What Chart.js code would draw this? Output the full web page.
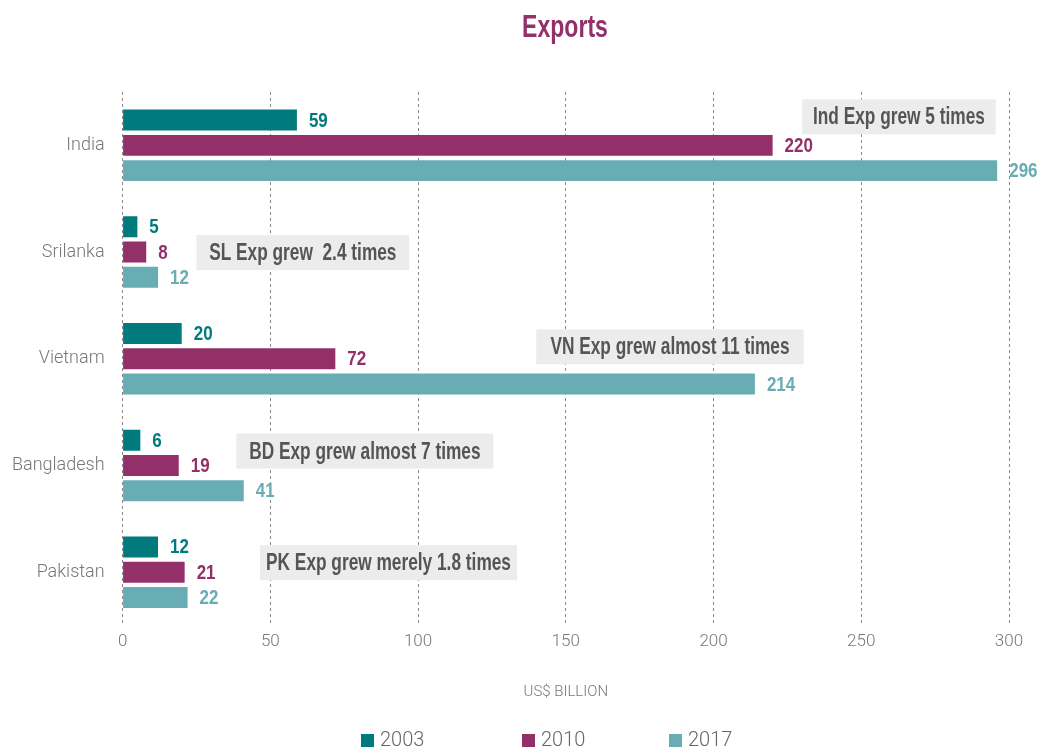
<!DOCTYPE html>
<html>
<head>
<meta charset="utf-8">
<script src="https://cdn.jsdelivr.net/npm/chart.js@4.4.1/dist/chart.umd.min.js"></script>
<style>
  html, body { margin: 0; padding: 0; background: #fff; }
  #wrap { width: 1039px; height: 749px; position: relative; }
</style>
</head>
<body>
<div id="wrap"><canvas id="myChart"></canvas></div>
<script>
// data
var countries = ['India', 'Srilanka', 'Vietnam', 'Bangladesh', 'Pakistan'];
var years = ['2003', '2010', '2017'];
var exp2003 = [59, 5, 20, 6, 12];
var exp2010 = [220, 8, 72, 19, 21];
var exp2017 = [296, 12, 214, 41, 22];
var xTicks = [0, 50, 100, 150, 200, 250, 300];
var chartTitle = 'Exports';
// notes: text, category, from/to on the x axis
var noteText = ['Ind Exp grew 5 times', 'SL Exp grew  2.4 times', 'VN Exp grew almost 11 times', 'BD Exp grew almost 7 times', 'PK Exp grew merely 1.8 times'];
var noteFrom = [230, 25, 140, 38.5, 46.5];
var noteTo = [295.5, 97, 230.5, 125.5, 133.5];

var colors = ['#007a7c', '#93306a', '#67adb3'];
var bold = "'Liberation Sans', Arial, sans-serif";
var thin = "Roboto, sans-serif";

// no condensed font here, so squeeze the text sideways
function narrowText(c, txt, x, y, sx) {
  c.save();
  c.translate(x, y);
  c.scale(sx, 1);
  c.fillText(txt, 0, 0);
  c.restore();
}

// title on top
var topTitle = {
  id: 'topTitle',
  afterDraw: function(chart) {
    var c = chart.ctx;
    c.save();
    c.font = 'bold 32px ' + bold;
    c.fillStyle = '#93306a';
    c.textAlign = 'center';
    c.textBaseline = 'alphabetic';
    narrowText(c, chartTitle, 565, 37, 0.72);
    c.restore();
  }
};

// values at the end of bars
var barLabels = {
  id: 'barLabels',
  afterDatasetsDraw: function(chart) {
    var c = chart.ctx;
    c.save();
    c.font = 'bold 20px ' + bold;
    c.textBaseline = 'middle';
    c.textAlign = 'left';
    chart.data.datasets.forEach(function(ds, i) {
      chart.getDatasetMeta(i).data.forEach(function(bar, j) {
        c.fillStyle = colors[i];
        narrowText(c, String(ds.data[j]), bar.x + 12, bar.y + 1, 0.85);
      });
    });
    c.restore();
  }
};

// grey boxes with remarks
var notes = {
  id: 'notes',
  afterDatasetsDraw: function(chart) {
    var c = chart.ctx, xs = chart.scales.x, ys = chart.scales.y;
    var offs = [-28.5, 0.5, -12, -14.5, -9.5];
    c.save();
    c.font = 'bold 24px ' + bold;
    c.textBaseline = 'middle';
    c.textAlign = 'center';
    for (var k = 0; k < noteText.length; k++) {
      var x1 = xs.getPixelForValue(noteFrom[k]), x2 = xs.getPixelForValue(noteTo[k]);
      var cy = ys.getPixelForValue(k) + offs[k];
      c.fillStyle = '#ececec';
      c.fillRect(x1, cy - 17.5, x2 - x1, 35);
      c.fillStyle = '#555555';
      narrowText(c, noteText[k], (x1 + x2) / 2, cy + 1, 0.72);
    }
    c.restore();
  }
};

// legend along the bottom
var bottomLegend = {
  id: 'bottomLegend',
  afterDraw: function(chart) {
    var c = chart.ctx;
    var xs = [361, 522, 669], y = 740;
    c.save();
    c.font = '300 20px ' + thin;
    c.textBaseline = 'middle';
    c.textAlign = 'left';
    chart.data.datasets.forEach(function(ds, i) {
      c.fillStyle = colors[i];
      c.fillRect(xs[i], y - 6, 13, 13);
      c.fillStyle = '#666';
      c.fillText(ds.label, xs[i] + 19, y + 1);
    });
    c.restore();
  }
};

var ctx = document.getElementById('myChart').getContext('2d');
var myChart = new Chart(ctx, {
  type: 'bar',
  data: {
    labels: countries,
    datasets: [
      { label: years[0], data: exp2003, backgroundColor: colors[0] },
      { label: years[1], data: exp2010, backgroundColor: colors[1] },
      { label: years[2], data: exp2017, backgroundColor: colors[2] }
    ]
  },
  options: {
    indexAxis: 'y',
    responsive: true,
    maintainAspectRatio: false,
    animation: false,
    categoryPercentage: 0.71,
    barPercentage: 0.83,
    layout: { padding: { left: 2, right: 30, top: 92, bottom: 48 } },
    plugins: {
      legend: { display: false },
      tooltip: { enabled: false },
      title: { display: false }
    },
    scales: {
      x: {
        min: 0,
        max: 300,
        afterBuildTicks: function(axis) {
          axis.ticks = xTicks.map(function(v) { return { value: v }; });
        },
        grid: { color: '#888', drawTicks: false },
        border: { display: false, dash: [3, 3] },
        ticks: { color: '#777', padding: 6, font: { family: thin, size: 17, weight: '300' } },
        title: {
          display: true,
          text: 'US$ BILLION',
          color: '#777',
          font: { family: thin, size: 15, weight: '300' },
          padding: { top: 25, bottom: 0 }
        }
      },
      y: {
        grid: { display: false },
        border: { display: false },
        ticks: { color: '#777', padding: 10, font: { family: thin, size: 18, weight: '300' } }
      }
    }
  },
  plugins: [barLabels, notes, bottomLegend, topTitle]
});
</script>
</body>
</html>
